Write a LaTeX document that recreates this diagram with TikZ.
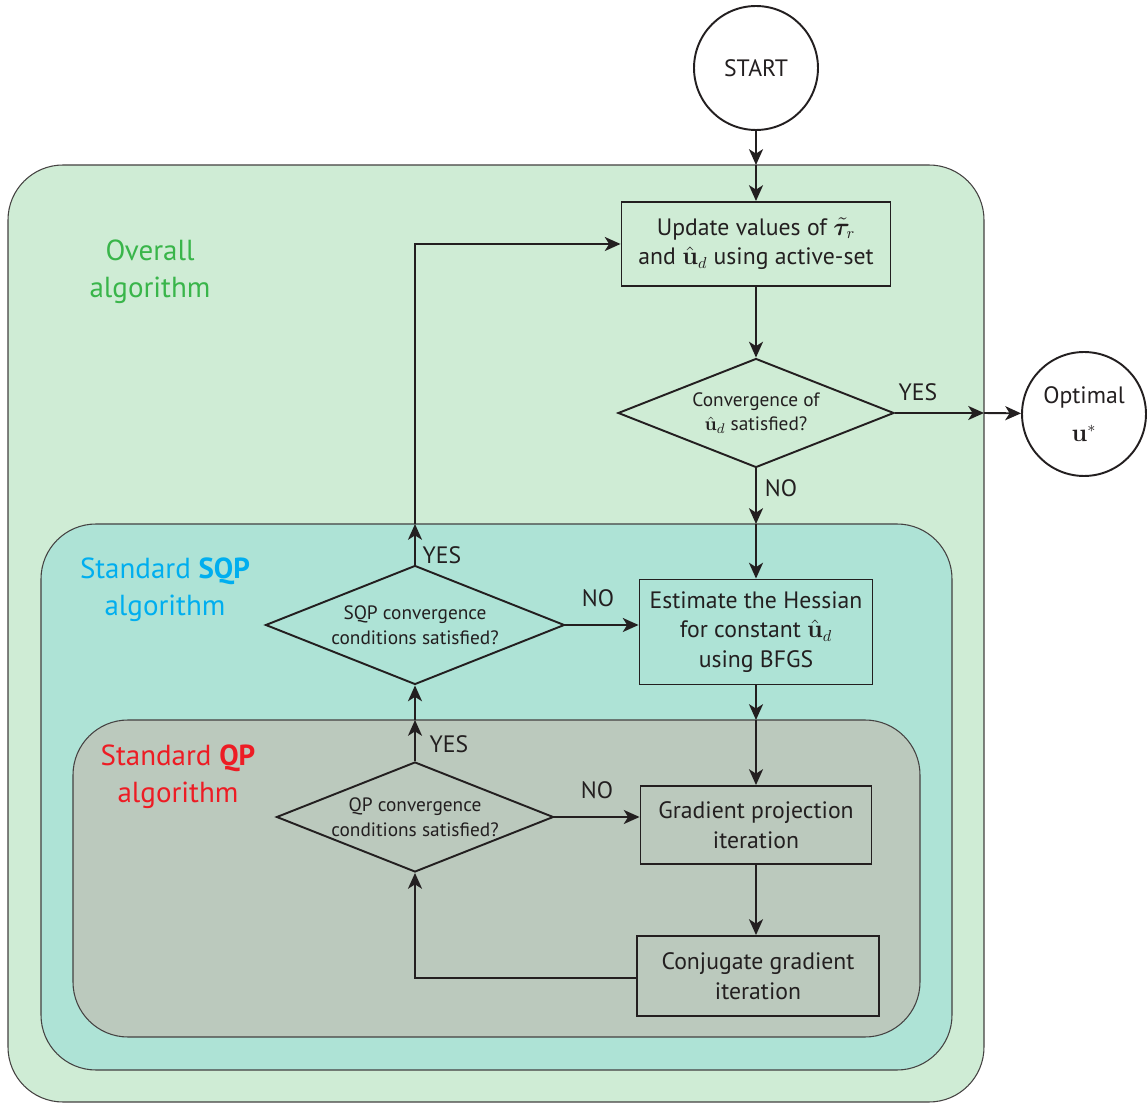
\documentclass[tikz,border=0pt]{standalone}
\usepackage{amsmath,amssymb,bm}
\usepackage[no-math]{fontspec}
\setmainfont{PT Sans}
\usetikzlibrary{positioning,calc,shapes,arrows.meta}

\definecolor{overallbg}{RGB}{207,236,213}
\definecolor{sqpbg}{RGB}{174,227,214}
\definecolor{qpbg}{RGB}{187,201,189}
\definecolor{overallgreen}{RGB}{57,181,74}
\definecolor{sqpblue}{RGB}{0,174,239}
\definecolor{qpred}{RGB}{237,28,36}
\definecolor{ink}{RGB}{35,31,32}

\begin{document}
\begin{tikzpicture}[x=0.02cm,y=-0.02cm,
  region/.style={draw=ink!85,line width=0.6pt,rounded corners=1.1cm},
  stepbox/.style={draw=ink,line width=1.1pt,align=center,inner sep=0pt,text=ink,
    font=\fontsize{13.5}{17}\selectfont},
  test/.style={diamond,aspect=2.5,draw=ink,line width=1.1pt,align=center,inner sep=0pt,
    text=ink,font=\fontsize{11}{14}\selectfont},
  term/.style={circle,draw=ink,line width=1.1pt,minimum size=2.48cm,align=center,
    text=ink,font=\fontsize{13.5}{16}\selectfont},
  flow/.style={draw=ink,line width=1.1pt,-{Stealth[length=9pt,width=8pt,inset=2.5pt]}},
  answer/.style={text=ink,font=\fontsize{13.5}{15}\selectfont},
  title/.style={align=center,font=\fontsize{16.5}{21}\selectfont}]
\useasboundingbox (0,0) rectangle (1147,1104);

% nested regions
\draw[region,fill=overallbg] (8,165) rectangle (984,1102);
\draw[region,fill=sqpbg] (41,524) rectangle (952,1070);
\draw[region,fill=qpbg] (73,720) rectangle (920,1037);

\node[title,text=overallgreen] (overalltitle) at (150,272) {Overall\\algorithm};
\node[title,text=sqpblue] (sqptitle) at (165,590) {Standard \textbf{SQP}\\algorithm};
\node[title,text=qpred] (qptitle) at (178,777) {Standard \textbf{QP}\\algorithm};

% blocks
\node[term] (start) at (756,68) {START};
\node[stepbox,minimum width=5.38cm,minimum height=1.68cm] (update) at (756,244)
  {Update values of $\tilde{\bm{\tau}}_r$\\and $\hat{\mathbf{u}}_d$ using active-set};
\node[test,minimum width=5.52cm,minimum height=2.18cm] (conv) at (756,413)
  {Convergence of\\$\hat{\mathbf{u}}_d$ satisfied?};
\node[term] (optimal) at (1084,414) {Optimal\\[6pt]$\mathbf{u}^*$};
\node[test,minimum width=5.98cm,minimum height=2.38cm] (sqptest) at (415,625)
  {SQP convergence\\conditions satisfied?};
\node[stepbox,minimum width=4.66cm,minimum height=2.1cm] (hessian) at (756,632)
  {Estimate the Hessian\\for constant $\hat{\mathbf{u}}_d$\\using BFGS};
\node[test,minimum width=5.54cm,minimum height=2.2cm] (qptest) at (415,817)
  {QP convergence\\conditions satisfied?};
\node[stepbox,minimum width=4.62cm,minimum height=1.56cm] (gradient) at (756,825)
  {Gradient projection\\iteration};
\node[stepbox,minimum width=4.84cm,minimum height=1.6cm] (conjugate) at (758,976)
  {Conjugate gradient\\iteration};

% points where the flow crosses a region border
\coordinate (topin) at (756,165);
\coordinate (rightout) at (984,413);
\coordinate (sqpin) at (756,524);
\coordinate (qpin) at (756,720);
\coordinate (qpout) at (415,720);
\coordinate (sqpout) at (415,524);
\coordinate (turn) at (415,244);
\coordinate (back) at (415,978);

% connectors
\draw[flow] (start) -- (topin);
\draw[flow] (topin) -- (update);
\draw[flow] (update) -- (conv);
\draw[flow] (conv) -- (rightout);
\draw[flow] (rightout) -- (optimal);
\draw[flow] (conv) -- (sqpin);
\draw[flow] (sqpin) -- (hessian);
\draw[flow] (hessian) -- (qpin);
\draw[flow] (qpin) -- (gradient);
\draw[flow] (gradient) -- (gradient |- conjugate.north);
\draw[flow] (conjugate.west |- back) -- (back) -- (qptest.south);
\draw[flow] (qptest) -- (qpout);
\draw[flow] (qpout) -- (sqptest);
\draw[flow] (sqptest) -- (sqpout);
\draw[flow] (sqpout) -- (turn) -- (update.west);
\draw[flow] (qptest) -- (gradient.west |- qptest);
\draw[flow] (sqptest) -- (hessian.west |- sqptest);

% branch labels
\node[answer] (yesopt) at (918,392) {YES};
\node[answer] (noconv) at (781,488) {NO};
\node[answer] (yessqp) at (442,555) {YES};
\node[answer] (nosqp) at (598,598) {NO};
\node[answer] (yesqp) at (449,744) {YES};
\node[answer] (noqp) at (597,790) {NO};
\end{tikzpicture}
\end{document}
